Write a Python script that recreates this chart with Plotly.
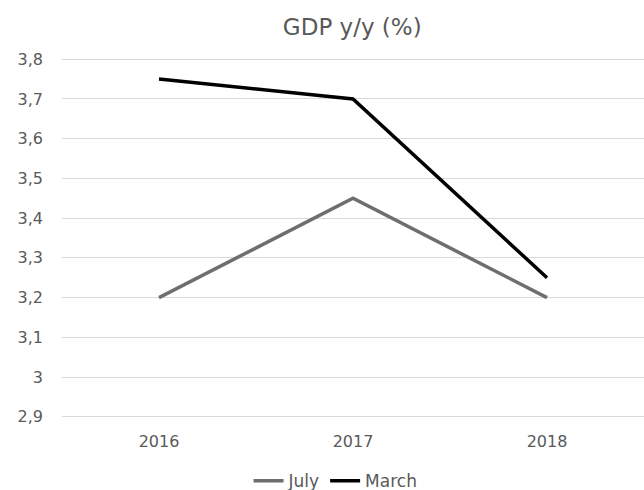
import plotly.graph_objects as go

years = ["2016", "2017", "2018"]
july = [3.2, 3.45, 3.2]
march = [3.75, 3.7, 3.25]
y_ticks = [2.9, 3.0, 3.1, 3.2, 3.3, 3.4, 3.5, 3.6, 3.7, 3.8]
y_tick_text = ["2,9", "3", "3,1", "3,2", "3,3", "3,4", "3,5", "3,6", "3,7", "3,8"]

font_family = "DejaVu Sans, Verdana, sans-serif"
text_color = "#595959"

fig = go.Figure()
fig.add_trace(go.Scatter(x=years, y=july, name="July", mode="lines",
                         line=dict(color="#6e6e6e", width=3.5)))
fig.add_trace(go.Scatter(x=years, y=march, name="March", mode="lines",
                         line=dict(color="#000000", width=3.5)))

fig.update_layout(
    width=644, height=490,
    paper_bgcolor="white", plot_bgcolor="white",
    margin=dict(l=62, r=0, t=58, b=72, autoexpand=False),
    title=dict(text="GDP y/y (%)", x=0.547, xanchor="center", y=0.945, yanchor="middle",
               xref="container",
               font=dict(family=font_family, size=23, color=text_color)),
    font=dict(family=font_family, size=16, color=text_color),
    xaxis=dict(type="category", range=[-0.5, 2.5], showgrid=False, showline=False,
               ticks="", ticklabelstandoff=12,
               tickfont=dict(size=16, color=text_color)),
    yaxis=dict(range=[2.897, 3.803], tickvals=y_ticks, ticktext=y_tick_text,
               showgrid=True, gridcolor="#d9d9d9", gridwidth=1, zeroline=False,
               showline=False, ticks="", ticklen=0, ticklabelstandoff=18,
               tickfont=dict(size=16, color=text_color)),
    legend=dict(orientation="h", x=0.47, xanchor="center",
                yref="container", y=0.018, yanchor="middle",
                font=dict(size=17, color=text_color), itemwidth=30,
                tracegroupgap=0),
    showlegend=True,
)

fig.write_html("out.html")
